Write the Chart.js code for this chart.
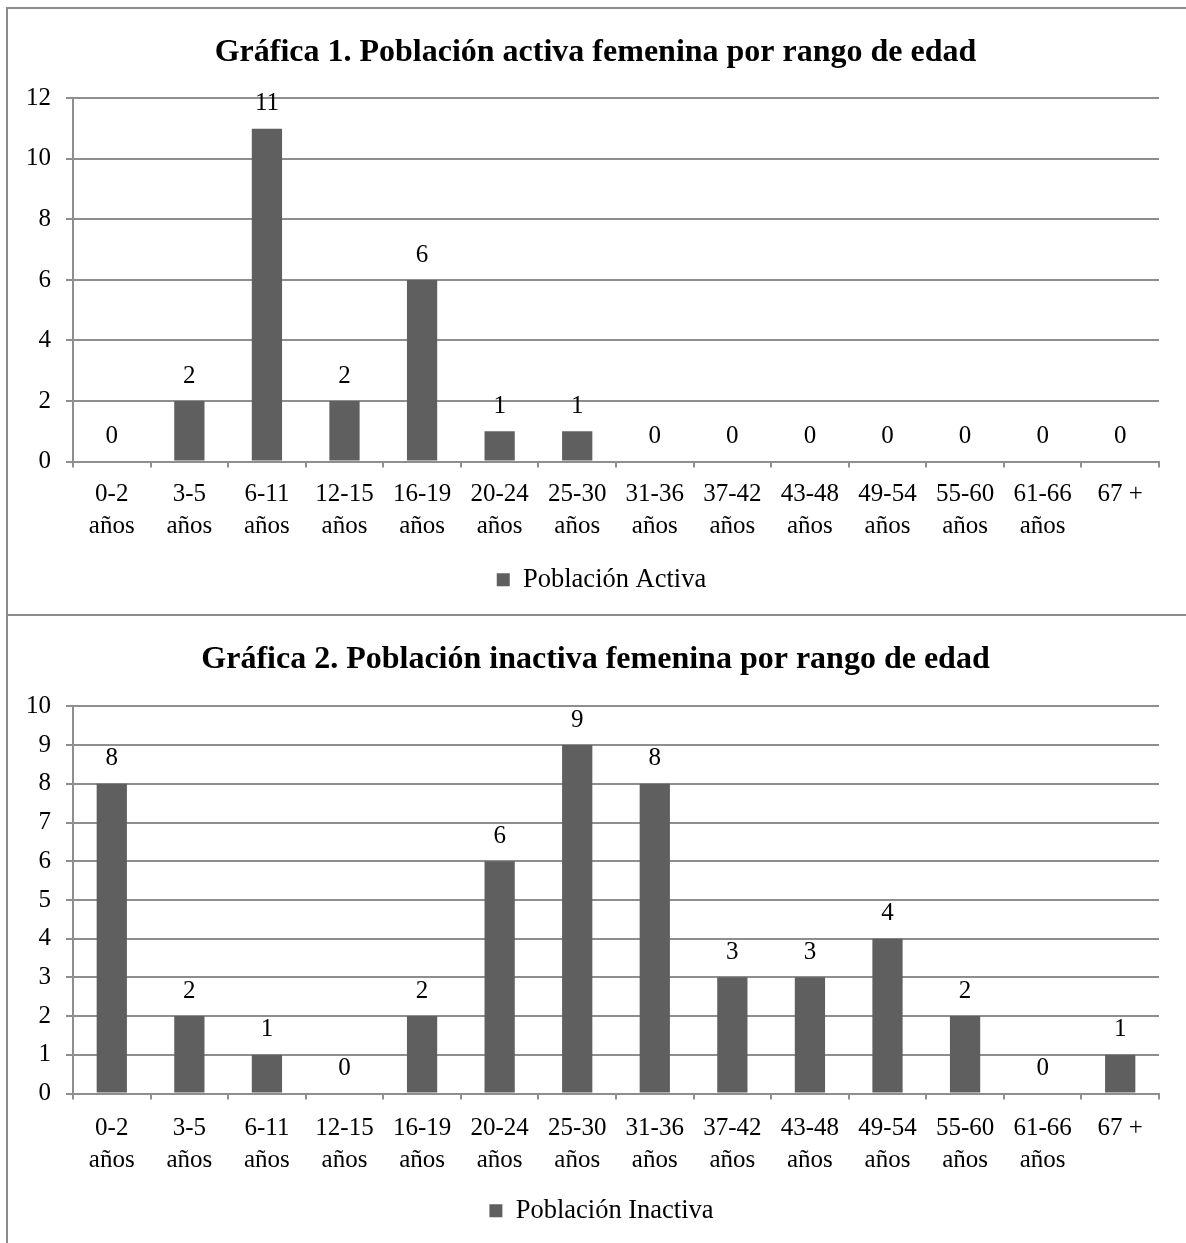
<!DOCTYPE html>
<html>
<head>
<meta charset="utf-8">
<script src="https://cdn.jsdelivr.net/npm/chart.js@4.4.1/dist/chart.umd.min.js"></script>
<style>
  html, body { margin: 0; padding: 0; background: #fff; overflow: hidden; }
  body { width: 1186px; height: 1243px; position: relative; }
  .frame { position: absolute; left: 6px; top: 7px; width: 1200px; height: 1300px;
           border: 2px solid #8c8c8c; box-sizing: border-box; }
  .divider { position: absolute; left: 6px; top: 614px; width: 1200px; height: 2px; background: #8c8c8c; }
  .wrap { position: absolute; left: 0; width: 1192px; }
  #w1 { top: 0; height: 615px; }
  #w2 { top: 615px; height: 628px; }
</style>
</head>
<body>
<div class="frame"></div>
<div class="divider"></div>
<div class="wrap" id="w1"><canvas id="c1"></canvas></div>
<div class="wrap" id="w2"><canvas id="c2"></canvas></div>
<script>
// Age ranges shown on the category axis (two-line labels)
const ageRanges = [
  ['0-2', 'años'], ['3-5', 'años'], ['6-11', 'años'], ['12-15', 'años'],
  ['16-19', 'años'], ['20-24', 'años'], ['25-30', 'años'], ['31-36', 'años'],
  ['37-42', 'años'], ['43-48', 'años'], ['49-54', 'años'], ['55-60', 'años'],
  ['61-66', 'años'], ['67 +']
];

// Women in the active population, per age range
const activeValues = [0, 2, 11, 2, 6, 1, 1, 0, 0, 0, 0, 0, 0, 0];

// Women in the inactive population, per age range
const inactiveValues = [8, 2, 1, 0, 2, 6, 9, 8, 3, 3, 4, 2, 0, 1];

const chartTitles = [
  'Gráfica 1. Población activa femenina por rango de edad',
  'Gráfica 2. Población inactiva femenina por rango de edad'
];
const seriesNames = ['Población Activa', 'Población Inactiva'];

const SERIF = '"Liberation Serif", "Times New Roman", serif';
const BAR = '#5f5f5f';
const GRID = '#8e8e8e';

// Writes each bar's value just above it
const valueLabels = {
  id: 'valueLabels',
  afterDatasetsDraw(chart) {
    const ctx = chart.ctx;
    ctx.save();
    ctx.font = '25px ' + SERIF;
    ctx.fillStyle = '#000';
    ctx.textAlign = 'center';
    ctx.textBaseline = 'middle';
    chart.data.datasets.forEach((ds, i) => {
      chart.getDatasetMeta(i).data.forEach((bar, j) => {
        ctx.fillText(String(ds.data[j]), bar.x, bar.y - 25);
      });
    });
    ctx.restore();
  }
};

// Centres the title and legend on the framed panel rather than on the plot
const panelCentre = {
  id: 'panelCentre',
  afterLayout(chart, args, opts) {
    if (chart.titleBlock) { chart.titleBlock.left += opts.title; chart.titleBlock.right += opts.title; }
    if (chart.legend) { chart.legend.left += opts.legend; chart.legend.right += opts.legend; }
  }
};

function makeChart(id, title, name, values, yMax, yStep, lay) {
  return new Chart(document.getElementById(id), {
    type: 'bar',
    data: {
      labels: ageRanges,
      datasets: [{
        label: name,
        data: values,
        backgroundColor: BAR,
        borderWidth: 0,
        categoryPercentage: 0.39,
        barPercentage: 1
      }]
    },
    options: {
      responsive: true,
      maintainAspectRatio: false,
      animation: false,
      layout: { padding: { top: lay.padTop, right: 33, bottom: lay.padBottom, left: 20 } },
      plugins: {
        title: {
          display: true,
          text: title,
          color: '#000',
          font: { family: SERIF, size: 32, weight: 'bold' },
          padding: { top: lay.titleTop, bottom: lay.titleBottom }
        },
        legend: {
          display: true,
          position: 'bottom',
          labels: {
            color: '#000',
            font: { family: SERIF, size: 26.5 },
            boxWidth: 13,
            boxHeight: 13,
            padding: 10
          }
        },
        tooltip: { enabled: false },
        panelCentre: { title: 6, legend: 12 }
      },
      scales: {
        x: {
          grid: { display: true, drawOnChartArea: false, drawTicks: true, tickLength: 6,
                  color: GRID, lineWidth: 2 },
          border: { display: true, color: GRID, width: 2 },
          ticks: { color: '#000', font: { family: SERIF, size: 25, lineHeight: 1.27 },
                   maxRotation: 0, autoSkip: false, padding: lay.xPad },
          afterFit(scale) { scale.height = lay.xHeight; }
        },
        y: {
          min: 0,
          max: yMax,
          grid: { color: GRID, lineWidth: 2, tickLength: 7 },
          border: { display: true, color: GRID, width: 2 },
          ticks: { stepSize: yStep, color: '#000', font: { family: SERIF, size: 25 }, padding: 15 },
          afterFit(scale) { scale.width = 53; }
        }
      }
    },
    plugins: [valueLabels, panelCentre]
  });
}

makeChart('c1', chartTitles[0], seriesNames[0], activeValues, 12, 2,
  { padTop: 20, titleTop: 14, titleBottom: 26, padBottom: 12, xHeight: 95, xPad: 11 });
makeChart('c2', chartTitles[1], seriesNames[1], inactiveValues, 10, 1,
  { padTop: 12, titleTop: 14, titleBottom: 27, padBottom: 9, xHeight: 94, xPad: 13 });
</script>
</body>
</html>
